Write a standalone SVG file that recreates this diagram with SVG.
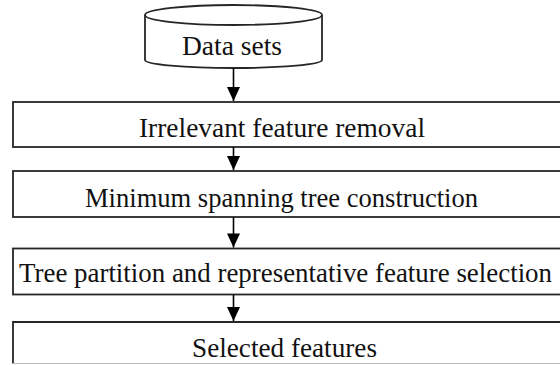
<svg xmlns="http://www.w3.org/2000/svg" width="560" height="365" viewBox="0 0 560 365">
<style>
.box{fill:#fff;stroke:#262626;stroke-width:1.8}
.lbl{font-family:"Liberation Serif","Times New Roman",serif;font-size:27px;fill:#111;text-anchor:middle}
.conn{stroke:#000;stroke-width:1.6;fill:none}
</style>
<defs>
<marker id="ah" markerUnits="userSpaceOnUse" markerWidth="16" markerHeight="14" viewBox="0 0 16 14" refX="15" refY="7" orient="auto">
<path d="M1,0.5 L15,7 L1,13.5 Z" fill="#000"/>
</marker>
</defs>
<rect width="560" height="365" fill="#fff"/>
<g id="n_datasets">
<path class="box" d="M145,15 L145,60 A88.5,8 0 0 0 322,60 L322,15"/>
<ellipse class="box" cx="233.5" cy="15" rx="88.5" ry="10"/>
<text class="lbl" x="232" y="55" textLength="100" lengthAdjust="spacingAndGlyphs">Data sets</text>
</g>
<g id="n_irrelevant">
<rect class="box" x="13" y="102" width="560" height="45"/>
<text class="lbl" x="282" y="137" textLength="286" lengthAdjust="spacingAndGlyphs">Irrelevant feature removal</text>
</g>
<g id="n_mst">
<rect class="box" x="13" y="171" width="560" height="46"/>
<text class="lbl" x="281.5" y="207" textLength="393" lengthAdjust="spacingAndGlyphs">Minimum spanning tree construction</text>
</g>
<g id="n_partition">
<rect class="box" x="13" y="248.5" width="560" height="46"/>
<text class="lbl" x="285.5" y="282" textLength="533" lengthAdjust="spacingAndGlyphs">Tree partition and representative feature selection</text>
</g>
<g id="n_selected">
<path class="box" d="M13,363.5 L13,322 L573,322"/>
<line x1="13" y1="363.5" x2="560" y2="363.5" stroke="#bbb" stroke-width="1.2"/>
<text class="lbl" x="284.5" y="357" textLength="185" lengthAdjust="spacingAndGlyphs">Selected features</text>
</g>
<g id="connectors">
<line class="conn" x1="233.5" y1="68" x2="233.5" y2="101" marker-end="url(#ah)"/>
<line class="conn" x1="233.5" y1="147" x2="233.5" y2="170" marker-end="url(#ah)"/>
<line class="conn" x1="233.5" y1="217" x2="233.5" y2="247.5" marker-end="url(#ah)"/>
<line class="conn" x1="233.5" y1="294.5" x2="233.5" y2="321" marker-end="url(#ah)"/>
</g>
</svg>
